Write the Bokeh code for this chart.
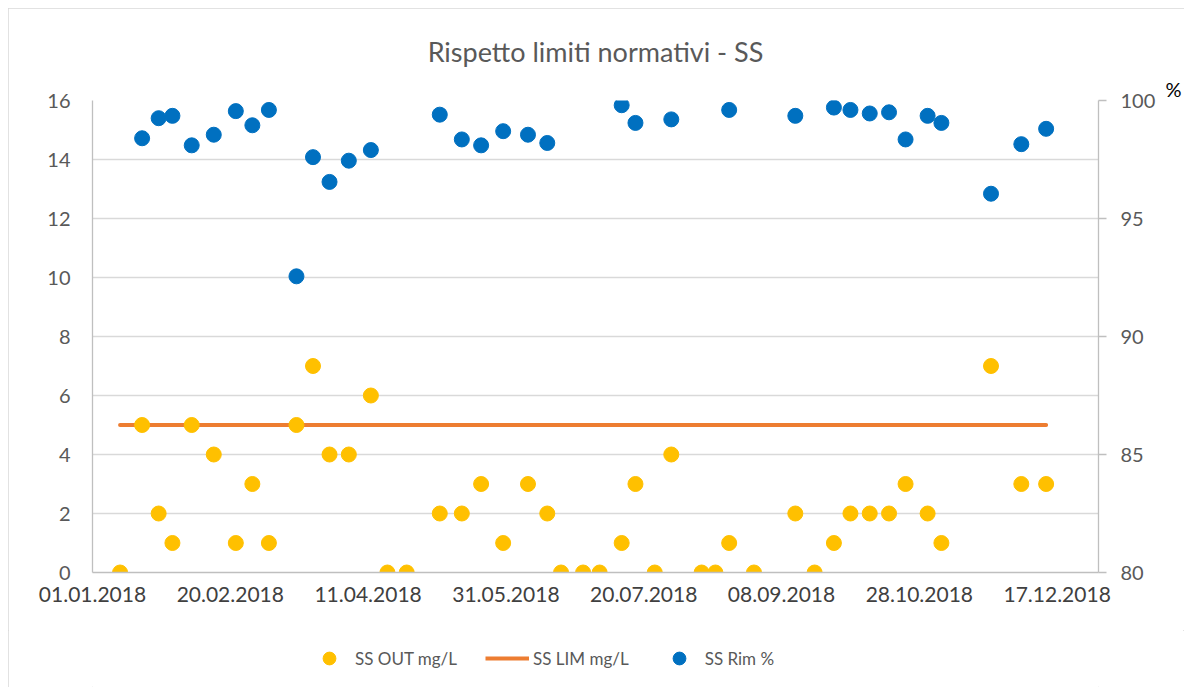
import pandas as pd
from bokeh.plotting import figure
from bokeh.layouts import column
from bokeh.models import (Range1d, LinearAxis, FixedTicker, DatetimeTickFormatter,
                          Legend, LegendItem, Title, ColumnDataSource)
from bokeh.embed import file_html
from bokeh.resources import INLINE

# ---------------- data ----------------
dates = ["2018-01-11", "2018-01-19", "2018-01-25", "2018-01-30", "2018-02-06",
         "2018-02-14", "2018-02-22", "2018-02-28", "2018-03-06", "2018-03-16",
         "2018-03-22", "2018-03-28", "2018-04-04", "2018-04-12", "2018-04-18",
         "2018-04-25", "2018-05-07", "2018-05-15", "2018-05-22", "2018-05-30",
         "2018-06-08", "2018-06-15", "2018-06-20", "2018-06-28", "2018-07-04",
         "2018-07-12", "2018-07-17", "2018-07-24", "2018-07-30", "2018-08-10",
         "2018-08-15", "2018-08-20", "2018-08-29", "2018-09-13", "2018-09-20",
         "2018-09-27", "2018-10-03", "2018-10-10", "2018-10-17", "2018-10-23",
         "2018-10-31", "2018-11-05", "2018-11-23", "2018-12-04", "2018-12-13"]
ss_out = [0, 5, 2, 1, 5, 4, 1, 3, 1, 5,
          7, 4, 4, 6, 0, 0, 2, 2, 3, 1,
          3, 2, 0, 0, 0, 1, 3, 0, 4, 0,
          0, 1, 0, 2, 0, 1, 2, 2, 2, 3,
          2, 1, 7, 3, 3]
ss_lim = [5] * len(dates)
nan = float("nan")
ss_rim = [nan, 98.4, 99.25, 99.35, 98.1, 98.55, 99.55, 98.95, 99.6, 92.55,
          97.6, 96.55, 97.45, 97.9, nan, nan, 99.4, 98.35, 98.1, 98.7,
          98.55, 98.2, nan, nan, nan, 99.8, 99.05, nan, 99.2, nan,
          nan, 99.6, nan, 99.35, nan, 99.7, 99.6, 99.45, 99.5, 98.35,
          99.35, 99.05, 96.05, 98.15, 98.8]
x_ticks = ["01.01.2018", "20.02.2018", "11.04.2018", "31.05.2018",
           "20.07.2018", "08.09.2018", "28.10.2018", "17.12.2018"]
left_ticks = [0, 2, 4, 6, 8, 10, 12, 14, 16]
right_ticks = [80, 85, 90, 95, 100]
title_text = "Rispetto limiti normativi - SS"
right_unit = "%"
series_names = ["SS OUT mg/L", "SS LIM mg/L", "SS Rim %"]

# ---------------- build ----------------
FONT = "Lato"
LBL = "#595959"
C_OUT, C_LIM, C_RIM = "#FFC000", "#ED7D31", "#0070C0"

src = ColumnDataSource(dict(x=pd.to_datetime(dates), out=ss_out, lim=ss_lim, rim=ss_rim))

x_start = pd.Timestamp("2018-01-01")
x_end = pd.Timestamp("2019-01-01")

p = figure(width=1176, height=622, output_backend="svg", toolbar_location=None,
           x_axis_type="datetime", x_range=Range1d(x_start, x_end),
           y_range=Range1d(0, 16),
           min_border_left=84, min_border_right=86, min_border_top=92,
           min_border_bottom=58)
p.extra_y_ranges = {"pct": Range1d(80, 100)}

p.title.text = title_text
p.title.align = "center"
p.title.text_font = FONT
p.title.text_font_size = "27px"
p.title.text_font_style = "normal"
p.title.text_color = LBL
p.title.standoff = 14

unit_title = Title(text=right_unit, align="right", offset=-83, text_font=FONT,
                   text_font_size="20px", text_font_style="normal",
                   text_color="#000000", standoff=0)
p.add_layout(unit_title, "above")

p.outline_line_color = None
p.background_fill_color = "white"
p.border_fill_color = "white"

# grid
p.xgrid.visible = False
p.ygrid.grid_line_color = "#d9d9d9"
p.ygrid.grid_line_width = 1.3
p.ygrid.ticker = FixedTicker(ticks=left_ticks)

# x axis
xax = p.xaxis[0]
xax.ticker = FixedTicker(ticks=[pd.to_datetime(t, format="%d.%m.%Y").value / 1e6 for t in x_ticks])
fmt = "%d.%m.%Y"
xax.formatter = DatetimeTickFormatter(milliseconds=fmt, seconds=fmt, minsec=fmt, minutes=fmt,
                                      hourmin=fmt, hours=fmt, days=fmt, months=fmt, years=fmt)
xax.axis_line_color = "#bfbfbf"
xax.axis_line_width = 1.3
xax.major_tick_line_color = None
xax.minor_tick_line_color = None
xax.major_tick_out = 0
xax.major_tick_in = 0
xax.major_label_text_font = FONT
xax.major_label_text_font_size = "21px"
xax.major_label_text_color = "#404040"
xax.major_label_standoff = 14

# left axis
yax = p.yaxis[0]
yax.ticker = FixedTicker(ticks=left_ticks)
yax.axis_line_color = "#bfbfbf"
yax.axis_line_width = 1.3
yax.major_tick_line_color = None
yax.minor_tick_line_color = None
yax.major_tick_out = 0
yax.major_tick_in = 0
yax.major_label_text_font = FONT
yax.major_label_text_font_size = "20px"
yax.major_label_text_color = LBL
yax.major_label_standoff = 22

# right axis
rax = LinearAxis(y_range_name="pct", ticker=FixedTicker(ticks=right_ticks))
rax.axis_line_color = "#bfbfbf"
rax.axis_line_width = 1.3
rax.major_tick_line_color = "#bfbfbf"
rax.major_tick_line_width = 1.3
rax.major_tick_out = 8
rax.major_tick_in = 0
rax.minor_tick_line_color = None
rax.major_label_text_font = FONT
rax.major_label_text_font_size = "20px"
rax.major_label_text_color = LBL
rax.major_label_standoff = 14
p.add_layout(rax, "right")

# glyphs
p.line("x", "lim", source=src, line_color=C_LIM, line_width=4, line_cap="round")
p.scatter("x", "out", source=src, size=15, fill_color=C_OUT, line_color=C_OUT)
p.scatter("x", "rim", source=src, y_range_name="pct", size=15,
          fill_color=C_RIM, line_color=C_RIM)

# legend strip below the chart
lf = figure(width=1176, height=57, output_backend="svg", toolbar_location=None,
            x_range=Range1d(0, 1), y_range=Range1d(0, 1),
            x_axis_location=None, y_axis_location=None,
            min_border=0, min_border_left=0, min_border_right=0,
            min_border_top=0, min_border_bottom=0)
lf.grid.visible = False
lf.outline_line_color = None
lf.border_fill_color = "white"
lf.background_fill_color = "white"
dummy = ColumnDataSource(dict(x=[nan], y=[nan]))
l_out = lf.scatter("x", "y", source=dummy, size=15, fill_color=C_OUT, line_color=C_OUT)
l_lim = lf.line("x", "y", source=dummy, line_color=C_LIM, line_width=4)
l_rim = lf.scatter("x", "y", source=dummy, size=15, fill_color=C_RIM, line_color=C_RIM)

legend = Legend(items=[LegendItem(label=series_names[0], renderers=[l_out]),
                       LegendItem(label=series_names[1], renderers=[l_lim]),
                       LegendItem(label=series_names[2], renderers=[l_rim])],
                orientation="horizontal", location=(215, 13),
                glyph_width=44, glyph_height=32, label_standoff=4, spacing=28,
                label_text_font=FONT, label_text_font_size="17px", label_text_color=LBL,
                border_line_color=None, background_fill_alpha=0, padding=6, margin=0)
lf.add_layout(legend, "center")

layout = column(p, lf, spacing=0,
                styles={"margin": "8px 0 0 8px", "outline": "1px solid #d9d9d9",
                        "outline-offset": "-1px"})

open("out.html", "w").write(file_html(layout, INLINE))
